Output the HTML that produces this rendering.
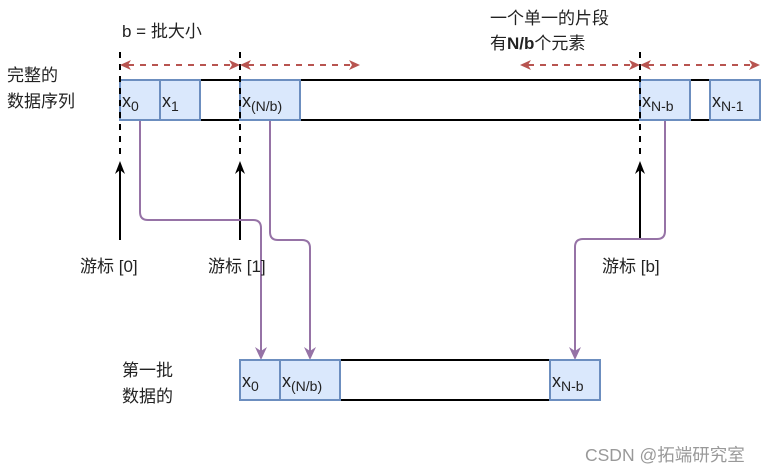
<!DOCTYPE html>
<html><head><meta charset="utf-8"><style>
html,body{margin:0;padding:0;background:#fff}
svg{display:block}
text{font-family:"Liberation Sans","Noto Sans CJK SC",sans-serif;fill:#222}
</style></head><body>
<svg width="771" height="471" viewBox="0 0 771 471" xmlns="http://www.w3.org/2000/svg">
<!-- top bar -->
<line x1="120" y1="80" x2="760" y2="80" stroke="#000" stroke-width="2"/>
<line x1="120" y1="120" x2="760" y2="120" stroke="#000" stroke-width="2"/>
<g fill="#dae8fc" stroke="#6c8ebf" stroke-width="2">
<rect x="120" y="80" width="40" height="40"/>
<rect x="160" y="80" width="40" height="40"/>
<rect x="240" y="80" width="60" height="40"/>
<rect x="640" y="80" width="50" height="40"/>
<rect x="710" y="80" width="50" height="40"/>
</g>
<g font-size="18">
<text x="122" y="107">x<tspan font-size="14" dy="4">0</tspan></text>
<text x="162" y="107">x<tspan font-size="14" dy="4">1</tspan></text>
<text x="242" y="107">x<tspan font-size="14" dy="4">(N/b)</tspan></text>
<text x="642" y="107">x<tspan font-size="14" dy="4">N-b</tspan></text>
<text x="712" y="107">x<tspan font-size="14" dy="4">N-1</tspan></text>
</g>
<!-- dashed verticals -->
<g stroke="#000" stroke-width="2" stroke-dasharray="6,6">
<line x1="120" y1="52" x2="120" y2="160"/>
<line x1="240" y1="52" x2="240" y2="160"/>
<line x1="640" y1="52" x2="640" y2="160"/>
</g>
<!-- black arrows -->
<g stroke="#000" stroke-width="2">
<line x1="120" y1="240" x2="120" y2="170"/>
<line x1="240" y1="240" x2="240" y2="170"/>
<line x1="640" y1="240" x2="640" y2="170"/>
</g>
<g fill="#000">
<path d="M120,161 L125,174 L120,170 L115,174Z"/>
<path d="M240,161 L245,174 L240,170 L235,174Z"/>
<path d="M640,161 L645,174 L640,170 L635,174Z"/>
</g>
<!-- red dashed arrows -->
<g stroke="#b85450" stroke-width="2" stroke-dasharray="6,6" fill="none">
<line x1="128" y1="65" x2="232" y2="65"/>
<line x1="248" y1="65" x2="352" y2="65"/>
<line x1="528" y1="65" x2="632" y2="65"/>
<line x1="648" y1="65" x2="752" y2="65"/>
</g>
<g fill="#b85450">
<path d="M120,65 L131,60 L128,65 L131,70Z"/>
<path d="M240,65 L229,60 L232,65 L229,70Z"/>
<path d="M240,65 L251,60 L248,65 L251,70Z"/>
<path d="M360,65 L349,60 L352,65 L349,70Z"/>
<path d="M520,65 L531,60 L528,65 L531,70Z"/>
<path d="M640,65 L629,60 L632,65 L629,70Z"/>
<path d="M640,65 L651,60 L648,65 L651,70Z"/>
<path d="M760,65 L749,60 L752,65 L749,70Z"/>
</g>
<!-- purple connectors -->
<g stroke="#9673a6" stroke-width="2" fill="none">
<path d="M140,121 V212 Q140,220 148,220 H253 Q261,220 261,228 V352"/>
<path d="M270,121 V232 Q270,240 278,240 H302 Q310,240 310,248 V352"/>
<path d="M665,121 V231 Q665,239 657,239 H583 Q575,239 575,247 V352"/>
</g>
<g fill="#9673a6">
<path d="M261,360 L255,347 L261,351 L267,347Z"/>
<path d="M310,360 L304,347 L310,351 L316,347Z"/>
<path d="M575,360 L569,347 L575,351 L581,347Z"/>
</g>
<!-- bottom bar -->
<line x1="240" y1="360" x2="600" y2="360" stroke="#000" stroke-width="2"/>
<line x1="240" y1="400" x2="600" y2="400" stroke="#000" stroke-width="2"/>
<g fill="#dae8fc" stroke="#6c8ebf" stroke-width="2">
<rect x="240" y="360" width="40" height="40"/>
<rect x="280" y="360" width="60" height="40"/>
<rect x="550" y="360" width="50" height="40"/>
</g>
<g font-size="18">
<text x="242" y="387">x<tspan font-size="14" dy="4">0</tspan></text>
<text x="282" y="387">x<tspan font-size="14" dy="4">(N/b)</tspan></text>
<text x="552" y="387">x<tspan font-size="14" dy="4">N-b</tspan></text>
</g>
<!-- labels -->
<g font-size="17">
<text x="122" y="37">b = 批大小</text>
<text x="490" y="24">一个单一的片段</text>
<text x="490" y="49">有<tspan font-weight="bold">N/b</tspan>个元素</text>
<text x="7" y="81">完整的</text>
<text x="7" y="107">数据序列</text>
<text x="80" y="272">游标 [0]</text>
<text x="208" y="272">游标 [1]</text>
<text x="602" y="272">游标 [b]</text>
<text x="122" y="376">第一批</text>
<text x="122" y="402">数据的</text>
</g>
<text x="585" y="461" font-size="17.5" style="fill:#999">CSDN @拓端研究室</text>
</svg>
</body></html>
